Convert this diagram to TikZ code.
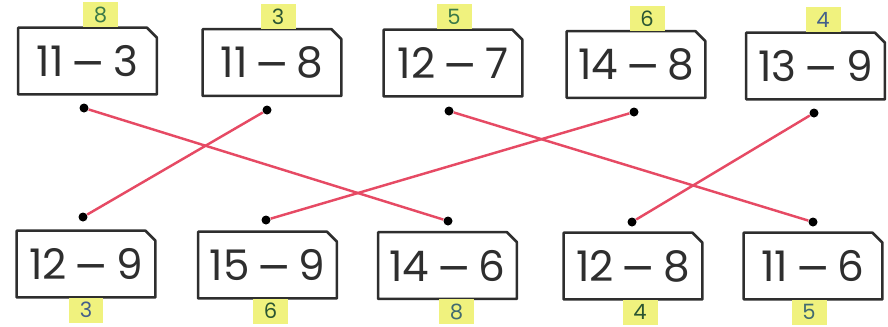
\documentclass[tikz,border=0pt]{standalone}
\usepackage{fontspec}
\setmainfont{Poppins}
\newfontfamily\minusfont{DejaVu Sans}
\usetikzlibrary{positioning}
\definecolor{linkred}{HTML}{E64A64}
\definecolor{marker}{HTML}{F0F27E}
\definecolor{inkgreen}{HTML}{3C7A48}
\definecolor{inkblue}{HTML}{45608A}
\definecolor{cardink}{HTML}{2E2E2E}
\newcommand{\mn}{\,{\minusfont −}\,}
\begin{document}
\begin{tikzpicture}[
    x=0.02cm, y=-0.02cm,
    card/.style={rectangle, minimum width=2.76cm, minimum height=1.32cm, inner sep=0pt, text=cardink, font=\fontsize{24}{28}\selectfont},
    answer/.style={rectangle, fill=marker, minimum width=0.7cm, minimum height=0.5cm, inner sep=0pt, font=\fontsize{12}{14}\selectfont},
    dot/.style={circle, fill=black, inner sep=0pt, minimum size=0.18cm},
    link/.style={color=linkred, line width=1.4pt}
]
\useasboundingbox (0,0) rectangle (888,326);

% top row
\node[card] (t1) at (87.5,61) {11\mn3};
\node[card] (t2) at (272,62.5) {11\mn8};
\node[card] (t3) at (453,63) {12\mn7};
\node[card] (t4) at (636,64.5) {14\mn8};
\node[card] (t5) at (815.5,66) {13\mn9};

% bottom row
\node[card] (b1) at (86,264) {12\mn9};
\node[card] (b2) at (267.5,265) {15\mn9};
\node[card] (b3) at (447.5,265.5) {14\mn6};
\node[card] (b4) at (633,266) {12\mn8};
\node[card] (b5) at (813,266) {11\mn6};

% card outlines, top right corner cut off
\foreach \c in {t1,t2,t3,t4,t5,b1,b2,b3,b4,b5}
  \draw[line width=1.5pt, line join=round, color=cardink] (\c.south west) -- (\c.north west) -- ([xshift=-0.2cm]\c.north east) -- ([yshift=-0.2cm]\c.north east) -- (\c.south east) -- cycle;

% answers
\node[answer, above=0pt of t1, xshift=0.26cm, text=inkgreen] (a1) {8};
\node[answer, above=0pt of t2, xshift=0.12cm, text=inkgreen!70!black] (a2) {3};
\node[answer, above=0pt of t3, xshift=0.02cm, text=inkgreen] (a3) {5};
\node[answer, above=0pt of t4, xshift=0.22cm, text=inkgreen!70!black] (a4) {6};
\node[answer, above=0pt of t5, xshift=0.15cm, text=inkblue] (a5) {4};
\node[answer, below=0pt of b1, xshift=0cm, text=inkblue] (c1) {3};
\node[answer, below=0pt of b2, xshift=0.06cm, text=inkgreen!70!black] (c2) {6};
\node[answer, below=0pt of b3, xshift=0.18cm, text=inkblue!60!inkgreen] (c3) {8};
\node[answer, below=0pt of b4, xshift=0.14cm, text=inkgreen!70!black] (c4) {4};
\node[answer, below=0pt of b5, xshift=-0.08cm, text=inkblue!60!inkgreen] (c5) {5};

% dots
\node[dot] (dt1) at (84,108) {};
\node[dot] (dt2) at (267,110) {};
\node[dot] (dt3) at (449,111) {};
\node[dot] (dt4) at (634,112) {};
\node[dot] (dt5) at (814,113) {};
\node[dot] (db1) at (83,217) {};
\node[dot] (db2) at (266,220) {};
\node[dot] (db3) at (448,221) {};
\node[dot] (db4) at (632,222) {};
\node[dot] (db5) at (813,222) {};

% matching lines
\draw[link] (dt1) -- (db3);
\draw[link] (dt2) -- (db1);
\draw[link] (dt3) -- (db5);
\draw[link] (dt4) -- (db2);
\draw[link] (dt5) -- (db4);
\end{tikzpicture}
\end{document}
